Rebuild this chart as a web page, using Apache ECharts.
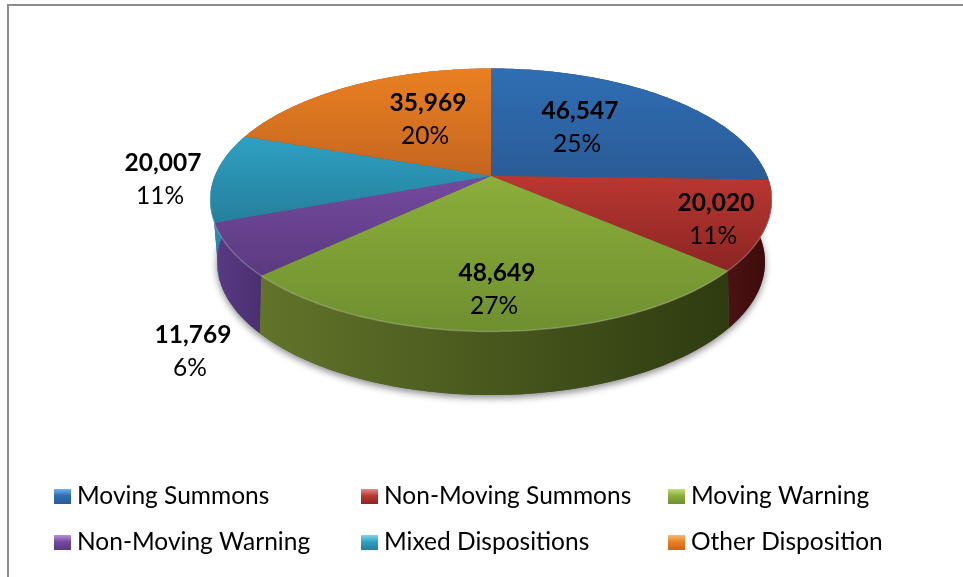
<!DOCTYPE html>
<html>
<head>
<meta charset="utf-8">
<style>
    html, body { margin: 0; padding: 0; background: #fff; }
    #main { width: 963px; height: 577px; }
</style>
<script src="https://cdn.jsdelivr.net/npm/echarts@6/dist/echarts.min.js"></script>
</head>
<body>
<div id="main"></div>
<script>
var categories = ['Moving Summons', 'Non-Moving Summons', 'Moving Warning', 'Non-Moving Warning', 'Mixed Dispositions', 'Other Disposition'];
var values = [46547, 20020, 48649, 11769, 20007, 35969];
var percents = ['25%', '11%', '27%', '6%', '11%', '20%'];

// label centres, separate from the data
var labelPos = [[580, 127], [716, 219], [497, 289], [193, 351], [163, 179], [428, 119]];

var topColors = [
    ['#2f6eb4', '#2a5b96'],
    ['#ba3731', '#8b2524'],
    ['#8cae3a', '#6f8f30'],
    ['#74499f', '#5b3a80'],
    ['#2fa0c2', '#257f9c'],
    ['#ea8022', '#c4651f']
];
var wallColors = [
    ['#1d3c63', '#1d3c63'],
    ['#4c1212', '#3a0a0a'],
    ['#62742a', '#2e3b10'],
    ['#5a3a86', '#4a2f70'],
    ['#2a8ba8', '#247a94'],
    ['#8a4a14', '#8a4a14']
];
var iconTints = ['#6fb0ea', '#e88a84', '#c4de7c', '#b692dc', '#7fd4ea', '#f8b877'];

// the tilted disc: top face and bottom edge, c is the perspective shift of the centre
var topRing = {cx: 491, cy: 200, rx: 281, ry: 131.5, c: -0.1825};
var bottomRing = {cx: 491, cy: 262, rx: 274, ry: 133, c: -0.237};
var FONT = 'Lato, "Open Sans", sans-serif';

var total = values.reduce(function (a, b) { return a + b; }, 0);

function rimPoint(ring, t) {
    var theta = t * Math.PI * 2;
    var u = Math.sin(theta);
    var v = -Math.cos(theta);
    var w = 1 + ring.c * v;
    var s = Math.sqrt(1 - ring.c * ring.c);
    return [ring.cx + ring.rx * s * u / w, ring.cy + ring.ry * (v + ring.c) / w];
}

function rimPoints(ring, from, to) {
    var pts = [];
    var n = Math.max(2, Math.ceil((to - from) * 360));
    for (var i = 0; i <= n; i++) {
        pts.push(rimPoint(ring, from + (to - from) * i / n));
    }
    return pts;
}

function gradient(pair, horizontal) {
    return {
        type: 'linear', x: 0, y: 0, x2: horizontal ? 1 : 0, y2: horizontal ? 0 : 1,
        colorStops: [{offset: 0, color: pair[0]}, {offset: 1, color: pair[1]}]
    };
}

function iconGradient(i) {
    return {
        type: 'linear', x: 0, y: 0, x2: 0, y2: 1,
        colorStops: [
            {offset: 0, color: iconTints[i]},
            {offset: 0.45, color: topColors[i][0]},
            {offset: 1, color: topColors[i][1]}
        ]
    };
}

function renderSlice(params, api) {
    var idx = params.seriesIndex;
    var start = 0;
    for (var i = 0; i < idx; i++) {
        start += values[i] / total;
    }
    var end = start + api.value(0) / total;

    var rim = rimPoints(topRing, start, end);
    var wall = rim.concat(rimPoints(bottomRing, start, end).reverse());
    var face = [[topRing.cx, topRing.cy + topRing.ry * topRing.c]].concat(rim);

    var children = [{
        type: 'polygon',
        z2: 1,
        shape: {points: wall},
        style: {fill: gradient(wallColors[idx], true)}
    }, {
        type: 'polygon',
        z2: 2,
        shape: {points: face},
        style: {fill: gradient(topColors[idx], false)}
    }];

    // light edge along the front of the top face
    var frontFrom = Math.max(start, 0.27);
    var frontTo = Math.min(end, 0.73);
    if (frontTo > frontFrom) {
        children.push({
            type: 'polyline',
            z2: 3,
            shape: {points: rimPoints(topRing, frontFrom, frontTo)},
            style: {fill: null, stroke: 'rgba(255,255,255,0.22)', lineWidth: 1.5}
        });
    }

    children.push({
        type: 'text',
        z2: 4,
        x: labelPos[idx][0],
        y: labelPos[idx][1] - 16,
        style: {
            text: values[idx].toLocaleString('en-US'),
            fill: '#000',
            fontFamily: FONT,
            fontSize: 24.5,
            fontWeight: 'bold',
            align: 'center',
            verticalAlign: 'middle'
        }
    }, {
        type: 'text',
        z2: 4,
        x: labelPos[idx][0] - 3,
        y: labelPos[idx][1] + 17,
        style: {
            text: percents[idx],
            fill: '#000',
            fontFamily: FONT,
            fontSize: 24.5,
            align: 'center',
            verticalAlign: 'middle'
        }
    });

    return {type: 'group', children: children};
}

function legendColumn(names, left) {
    return {
        orient: 'vertical',
        left: left,
        top: 479,
        itemGap: 21,
        itemWidth: 17,
        itemHeight: 15,
        selectedMode: false,
        icon: 'rect',
        textStyle: {fontFamily: FONT, fontSize: 24.5, color: '#000', padding: [0, 0, 0, 1]},
        data: names.map(function (name) {
            return {name: name, itemStyle: {color: iconGradient(categories.indexOf(name))}};
        })
    };
}

var chart = echarts.init(document.getElementById('main'));

chart.setOption({
    animation: false,
    tooltip: {show: false},
    legend: [
        legendColumn([categories[0], categories[3]], 49),
        legendColumn([categories[1], categories[4]], 356),
        legendColumn([categories[2], categories[5]], 663)
    ],
    graphic: [{
        type: 'polyline',
        z: 0,
        shape: {points: [[8, 577], [8, 5], [963, 5]]},
        style: {fill: null, stroke: '#8c8c8c', lineWidth: 2}
    }, {
        type: 'polygon',
        z: 0,
        shape: {points: rimPoints(bottomRing, 0, 1)},
        style: {fill: '#555', shadowBlur: 7, shadowOffsetY: 3, shadowColor: 'rgba(0,0,0,0.45)'}
    }],
    series: categories.map(function (name, i) {
        return {
            name: name,
            type: 'custom',
            coordinateSystem: 'none',
            silent: true,
            itemStyle: {color: topColors[i][0]},
            renderItem: renderSlice,
            data: [[values[i]]]
        };
    })
});
</script>
</body>
</html>
